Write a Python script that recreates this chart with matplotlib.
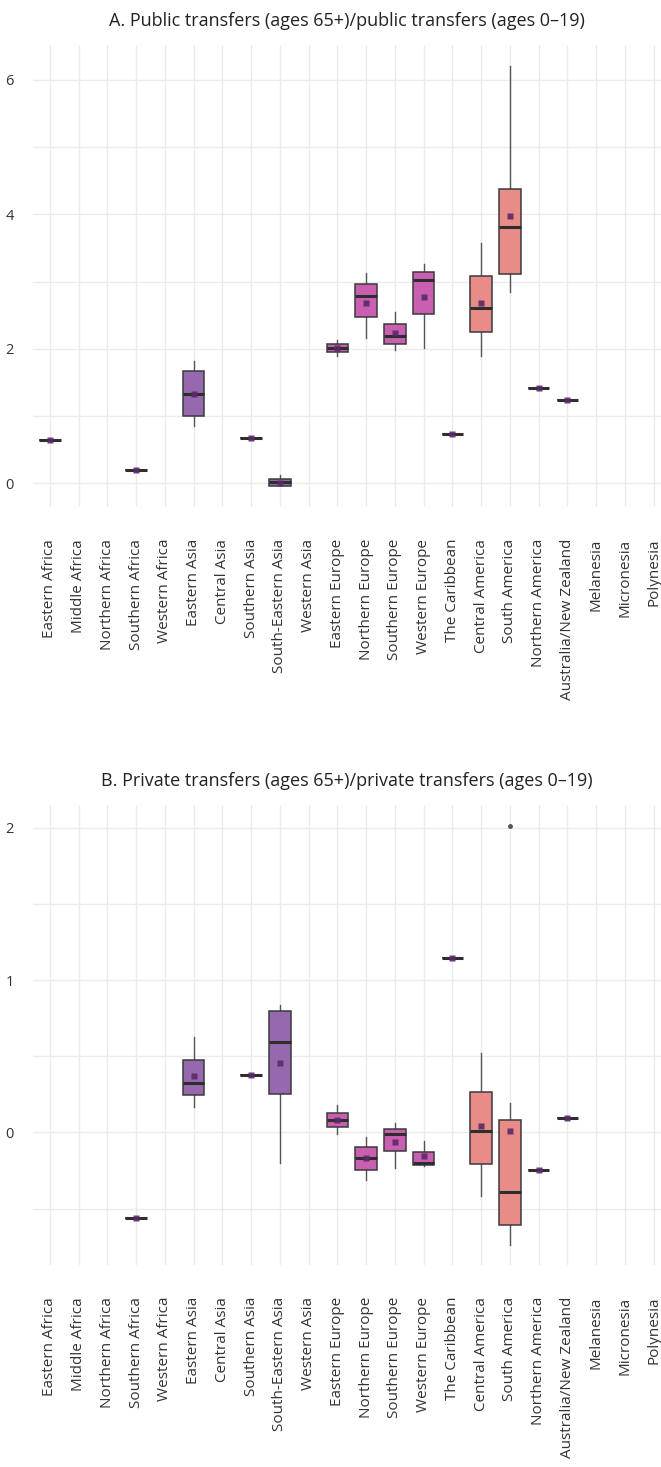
import numpy as np
import matplotlib
matplotlib.use("Agg")
import matplotlib.pyplot as plt
from matplotlib.ticker import MultipleLocator

plt.rcParams['font.family'] = ['Open Sans', 'DejaVu Sans']

# regions in the order they appear on the x axis
regions = ['Eastern Africa', 'Middle Africa', 'Northern Africa', 'Southern Africa', 'Western Africa',
           'Eastern Asia', 'Central Asia', 'Southern Asia', 'South-Eastern Asia', 'Western Asia',
           'Eastern Europe', 'Northern Europe', 'Southern Europe', 'Western Europe',
           'The Caribbean', 'Central America', 'South America', 'Northern America',
           'Australia/New Zealand', 'Melanesia', 'Micronesia', 'Polynesia']

# continent of each region (used for the fill colour)
continent = ['Africa'] * 5 + ['Asia'] * 5 + ['Europe'] * 4 + ['Americas'] * 4 + ['Oceania'] * 4

# Panel A: public transfers ratio, box stats (None = no data)
a_whislo = [0.65, None, None, 0.20, None, 0.86, None, 0.68, -0.035, None,
            1.89, 2.16, 1.99, 2.02, 0.74, 1.89, 2.85, 1.42, 1.24, None, None, None]
a_q1 = [0.65, None, None, 0.20, None, 1.01, None, 0.68, -0.035, None,
        1.95, 2.47, 2.08, 2.52, 0.74, 2.25, 3.11, 1.42, 1.24, None, None, None]
a_med = [0.65, None, None, 0.20, None, 1.33, None, 0.68, 0.015, None,
         2.01, 2.79, 2.19, 3.03, 0.74, 2.61, 3.81, 1.42, 1.24, None, None, None]
a_q3 = [0.65, None, None, 0.20, None, 1.67, None, 0.68, 0.06, None,
        2.07, 2.96, 2.37, 3.15, 0.74, 3.09, 4.38, 1.42, 1.24, None, None, None]
a_whishi = [0.65, None, None, 0.20, None, 1.82, None, 0.68, 0.13, None,
            2.13, 3.13, 2.55, 3.26, 0.74, 3.57, 6.21, 1.42, 1.24, None, None, None]
a_mean = [0.65, None, None, 0.20, None, 1.33, None, 0.68, 0.01, None,
          2.01, 2.69, 2.24, 2.78, 0.74, 2.69, 3.98, 1.42, 1.24, None, None, None]
a_fliers = {}

# Panel B: private transfers ratio
b_whislo = [None, None, None, -0.56, None, 0.168, None, 0.377, -0.20, None,
            -0.01, -0.31, -0.235, -0.222, 1.144, -0.418, -0.739, -0.248, 0.096, None, None, None]
b_q1 = [None, None, None, -0.56, None, 0.245, None, 0.377, 0.25, None,
        0.035, -0.244, -0.124, -0.211, 1.144, -0.206, -0.605, -0.248, 0.096, None, None, None]
b_med = [None, None, None, -0.56, None, 0.325, None, 0.377, 0.593, None,
         0.083, -0.17, -0.013, -0.20, 1.144, 0.007, -0.392, -0.248, 0.096, None, None, None]
b_q3 = [None, None, None, -0.56, None, 0.475, None, 0.377, 0.80, None,
        0.13, -0.098, 0.026, -0.126, 1.144, 0.264, 0.083, -0.248, 0.096, None, None, None]
b_whishi = [None, None, None, -0.56, None, 0.625, None, 0.377, 0.835, None,
            0.18, -0.028, 0.06, -0.058, 1.144, 0.52, 0.194, -0.248, 0.096, None, None, None]
b_mean = [None, None, None, -0.56, None, 0.37, None, 0.377, 0.456, None,
          0.085, -0.17, -0.061, -0.157, 1.144, 0.04, 0.007, -0.248, 0.096, None, None, None]
b_fliers = {'South America': [2.01]}

fill = {'Africa': '#9669af', 'Asia': '#9669af', 'Europe': '#c85fb0',
        'Americas': '#e88c88', 'Oceania': '#f3b27a'}

titles = ['A. Public transfers (ages 65+)/public transfers (ages 0\u201319)',
          'B. Private transfers (ages 65+)/private transfers (ages 0\u201319)']


def draw_panel(ax, whislo, q1, med, q3, whishi, mean, fliers, title, major, minor, ylim):
    stats, pos, cols = [], [], []
    for i, name in enumerate(regions):
        if med[i] is None:
            continue
        stats.append(dict(whislo=whislo[i], q1=q1[i], med=med[i], q3=q3[i], whishi=whishi[i],
                          mean=mean[i], fliers=fliers.get(name, []), label=name))
        pos.append(i)
        cols.append(fill[continent[i]])
    bp = ax.bxp(stats, positions=pos, widths=0.75, patch_artist=True, showmeans=True,
                showcaps=False, manage_ticks=False,
                boxprops=dict(edgecolor='#3a3a3a', linewidth=1.1),
                medianprops=dict(color='#2e2e2e', linewidth=2.2, solid_capstyle='butt'),
                whiskerprops=dict(color='#555555', linewidth=1.0),
                meanprops=dict(marker='s', markersize=5, markerfacecolor='#5a2a68',
                               markeredgecolor='none', alpha=0.9),
                flierprops=dict(marker='o', markersize=3.5, markerfacecolor='#555555',
                                markeredgecolor='none'))
    for patch, c in zip(bp['boxes'], cols):
        patch.set_facecolor(c)
    for w in bp['whiskers']:
        w.set_zorder(1.5)

    ax.set_xticks(range(len(regions)))
    ax.set_xticklabels(regions, rotation=90, fontsize=11, color='#333333')
    ax.set_xlim(-0.59, 21.26)
    ax.set_ylim(*ylim)
    ax.yaxis.set_major_locator(MultipleLocator(major))
    ax.yaxis.set_minor_locator(MultipleLocator(minor))
    ax.tick_params(axis='both', length=0, labelcolor='#333333')
    ax.tick_params(axis='y', labelsize=10.5, pad=14)
    ax.tick_params(axis='x', pad=23)
    ax.tick_params(axis='y', which='minor', length=0)
    ax.grid(True, which='both', color='#ebebeb', linewidth=1.0)
    ax.set_axisbelow(True)
    for s in ax.spines.values():
        s.set_visible(False)
    ax.set_title(title, fontsize=13, color='#222222', pad=14)


fig = plt.figure(figsize=(6.61, 14.67), dpi=100)
H = 1467.0
axA = fig.add_axes([33 / 661, (H - 507) / H, 628 / 661, 462 / H])
axB = fig.add_axes([33 / 661, (H - 1265) / H, 628 / 661, 460 / H])

draw_panel(axA, a_whislo, a_q1, a_med, a_q3, a_whishi, a_mean, a_fliers, titles[0],
           2, 1, (-0.35, 6.52))
draw_panel(axB, b_whislo, b_q1, b_med, b_q3, b_whishi, b_mean, b_fliers, titles[1],
           1, 0.5, (-0.87, 2.15))

fig.savefig('out.png', dpi=100, facecolor='white')
